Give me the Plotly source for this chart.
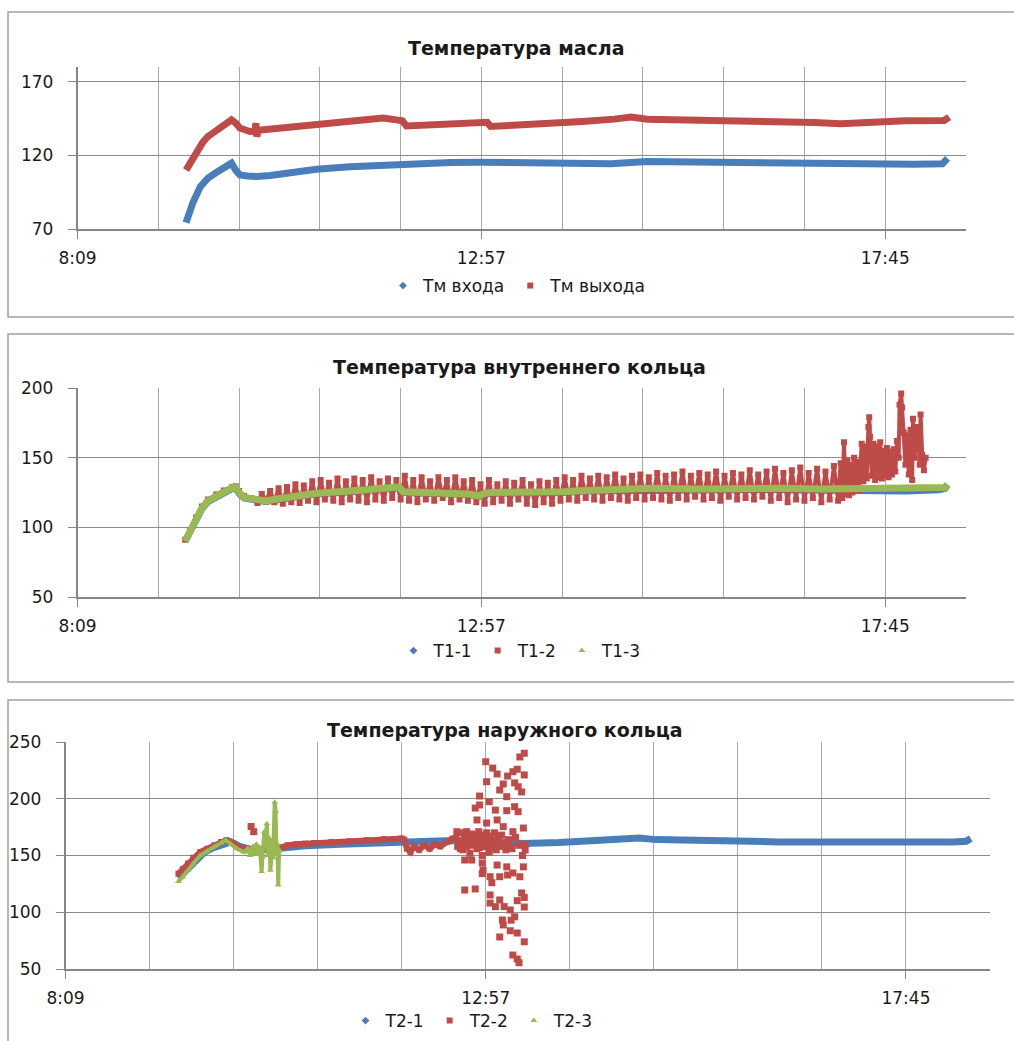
import plotly.graph_objects as go

# ---------------- time axis (hours of the day) ----------------
X_LABELS = ["8:09", "12:57", "17:45"]
X_LABEL_POS = [8.16, 12.96, 17.76]
X_START, X_END, X_STEP = 8.16, 18.72, 0.96

# ---------------- Температура масла ----------------
oil_in_t = [9.45, 9.53, 9.62, 9.71, 9.80, 9.90, 9.99, 10.04, 10.09, 10.18,
            10.29, 10.45, 10.70, 11.00, 11.40, 11.80, 12.20, 12.60, 12.96, 13.30,
            13.70, 14.16, 14.50, 14.93, 15.30, 15.69, 16.10, 16.46, 16.90, 17.23,
            17.70, 18.10, 18.44, 18.50]
oil_in = [74.3, 87.7, 98.8, 104.5, 108, 111, 114.7, 110, 106.7, 106,
          105.6, 106.3, 108.5, 110.5, 112.3, 113.5, 114.5, 115.2, 115.3, 115,
          115.2, 114.7, 114.3, 115.8, 115.6, 115.1, 114.8, 114.2, 113.9, 113.5,
          113.9, 114, 114.3, 118]

oil_out_t = [9.45, 9.52, 9.58, 9.65, 9.71, 9.80, 9.90, 9.99, 10.04, 10.09,
             10.21, 10.27, 10.28, 10.29, 10.31, 10.40, 10.53, 10.75, 11.00, 11.40,
             11.79, 11.95, 12.02, 12.07, 12.30, 12.59, 12.98, 13.03, 13.07, 13.40,
             13.85, 14.16, 14.54, 14.74, 14.93, 15.30, 15.69, 16.10, 16.46, 16.92,
             17.23, 17.61, 18.00, 18.46, 18.52]
oil_out = [110, 117, 123.7, 129, 132.8, 136.5, 140.5, 144.1, 142, 138.5,
           136.2, 136.5, 141.9, 132.8, 137, 137.5, 138.5, 140, 141.9, 143.5,
           145.3, 144.1, 143.5, 140, 140.8, 141.9, 143, 142.5, 139.6, 140.5,
           141.4, 143, 144.6, 146, 144.6, 144.2, 143.7, 143.7, 143.7, 142.3,
           141.4, 143, 143.5, 143.7, 146]

# ---------------- Температура внутреннего кольца ----------------
inner_t = [9.44, 9.50, 9.57, 9.64, 9.71, 9.81, 9.90, 10.00, 10.04, 10.08,
           10.14, 10.25, 10.40, 10.55, 10.75, 11.00, 11.40, 11.75, 11.98, 12.03,
           12.40, 12.80, 12.93, 13.00, 13.08, 13.40, 13.93, 14.20, 14.60, 15.00,
           15.50, 16.00, 16.50, 17.00, 17.50, 18.00, 18.40, 18.47, 18.50]
t1_1 = [90, 97, 106, 113.5, 118.5, 122, 125, 128, 128.5, 124.5,
        121, 119.5, 118.5, 120, 122, 124, 125.5, 127, 128.5, 125,
        124.5, 123.5, 122, 124, 124.5, 124.5, 125, 126, 126.5, 127,
        126.5, 127, 127, 126.5, 125.6, 126, 127, 128, 130.5]
t1_3 = [90, 97, 106, 114, 119, 122.5, 125.5, 128.5, 129, 125,
        121.5, 120, 119, 120.5, 122.5, 124.5, 126, 127.5, 129, 125.5,
        125, 124, 122.5, 124.5, 125, 125, 125.6, 126.5, 127.5, 128,
        127.5, 128, 128, 127.5, 127.5, 127.5, 127.5, 128.5, 131]

t1_2_t = [9.44, 9.50, 9.57, 9.64, 9.71, 9.81, 9.90, 10.00, 10.04, 10.08,
          10.14, 10.22,
          10.30, 10.35, 10.40, 10.45, 10.50, 10.55, 10.60, 10.65, 10.70, 10.75,
          10.80, 10.85, 10.90, 10.95, 11.00, 11.05, 11.10, 11.15, 11.20, 11.25,
          11.30, 11.35, 11.40, 11.45, 11.50, 11.55, 11.60, 11.65, 11.70, 11.75,
          11.80, 11.85, 11.90, 11.95, 12.00, 12.05, 12.10, 12.15, 12.20, 12.25,
          12.30, 12.35, 12.40, 12.45, 12.50, 12.55, 12.60, 12.65, 12.70, 12.75,
          12.80, 12.85, 12.90, 12.95, 13.00, 13.05, 13.10, 13.15, 13.20, 13.25,
          13.30, 13.35, 13.40, 13.45, 13.50, 13.55, 13.60, 13.65, 13.70, 13.75,
          13.80, 13.85, 13.90, 13.95, 14.00, 14.05, 14.10, 14.15, 14.20, 14.25,
          14.30, 14.35, 14.40, 14.45, 14.50, 14.55, 14.60, 14.65, 14.70, 14.75,
          14.80, 14.85, 14.90, 14.95, 15.00, 15.05, 15.10, 15.15, 15.20, 15.25,
          15.30, 15.35, 15.40, 15.45, 15.50, 15.55, 15.60, 15.65, 15.70, 15.75,
          15.80, 15.85, 15.90, 15.95, 16.00, 16.05, 16.10, 16.15, 16.20, 16.25,
          16.30, 16.35, 16.40, 16.45, 16.50, 16.55, 16.60, 16.65, 16.70, 16.75,
          16.80, 16.85, 16.90, 16.95, 17.00, 17.05, 17.10, 17.15, 17.20,
          17.23, 17.25, 17.27, 17.29, 17.31, 17.33, 17.35, 17.37, 17.39, 17.41,
          17.43, 17.45, 17.48, 17.50, 17.52, 17.54, 17.56, 17.57, 17.58, 17.60,
          17.62, 17.64, 17.66, 17.68, 17.70, 17.72, 17.74, 17.76, 17.78, 17.80,
          17.82, 17.84, 17.86, 17.88, 17.90, 17.92, 17.93, 17.95, 17.96, 17.98,
          18.00, 18.02, 18.04, 18.06, 18.08, 18.09, 18.11, 18.13, 18.15, 18.17,
          18.18, 18.20, 18.22, 18.24]
t1_2 = [91, 98, 107, 115, 120, 123.5, 126.5, 129, 129.5, 126,
        122.5, 121,
        117.5, 124, 118.5, 126, 118, 128, 117, 129, 118, 131,
        117.5, 130, 119, 133, 118, 134, 120, 132, 119, 135,
        118, 133, 120, 135, 119, 134, 118, 136, 120, 133,
        119, 135, 121, 134, 120, 137, 119, 134, 118, 136,
        120, 133, 119, 136, 121, 134, 118, 136, 120, 133,
        119, 134, 118, 131, 117, 134, 118, 131, 119, 133,
        117, 132, 120, 134, 117, 131, 116, 133, 118, 132,
        117, 134, 119, 136, 120, 134, 119, 137, 121, 135,
        120, 137, 119, 136, 121, 138, 120, 135, 119, 137,
        121, 138, 120, 136, 121, 139, 120, 137, 119, 138,
        121, 140, 120, 137, 122, 139, 120, 138, 121, 140,
        119, 137, 122, 139, 120, 138, 121, 141, 120, 138,
        122, 140, 119, 142, 121, 139, 118, 141, 120, 143,
        119, 139, 121, 142, 118, 140, 120, 144, 119,
        146, 121, 161, 124, 148, 123, 145, 125, 150, 127,
        147, 126, 160, 133, 158, 135, 172, 179, 165, 137,
        160, 134, 158, 136, 161, 135, 155, 137, 157, 136,
        154, 138, 156, 140, 162, 150, 188, 196, 186, 168,
        145, 166, 138, 170, 134, 178, 150, 172, 170, 145,
        181, 152, 141, 150]

# ---------------- Температура наружного кольца ----------------
t2_1_t = [9.45, 9.55, 9.65, 9.75, 9.85, 9.95, 10.05, 10.15, 10.30, 10.50,
          10.62, 10.90, 11.30, 11.70, 12.10, 12.50, 12.90, 13.40, 13.80, 14.20,
          14.50, 14.72, 14.90, 15.30, 15.80, 16.30, 16.80, 17.30, 17.80, 18.30,
          18.45, 18.50]
t2_1 = [130, 138, 146, 153, 157, 160, 162, 158, 155, 155.5,
        156.6, 158.5, 160, 161.5, 162.5, 163, 163, 160.5, 161.5, 163.5,
        164, 165.4, 164, 163, 162.5, 162, 161.9, 161.5, 161.5, 162,
        162.5, 165]

t2_2_t = [9.45, 9.50, 9.56, 9.62, 9.70, 9.78, 9.86, 9.94, 10.00, 10.06,
          10.15, 10.25, 10.40, 10.55, 10.62, 10.70, 10.80, 10.90, 11.00, 11.20,
          11.40, 11.60, 11.80, 12.00, 12.03, 12.06, 12.10, 12.14, 12.20, 12.26,
          12.32, 12.38, 12.44, 12.52, 12.58]
t2_2 = [134, 138, 143, 148, 153, 156, 159, 162, 163.5, 161,
        157, 155, 155, 156, 157, 159, 160, 160.5, 161, 162,
        162.5, 163.5, 164.5, 165, 164, 156, 153, 158, 155, 159,
        156, 160, 158, 162, 165]

# scattered T2-2 readings (sensor dropout)
t2_2_scatter_t = [10.28, 10.31,
                  12.62, 12.63, 12.66, 12.68, 12.70, 12.72, 12.72, 12.72, 12.74, 12.74,
                  12.76, 12.78, 12.80, 12.80, 12.82, 12.84, 12.84, 12.84, 12.86, 12.86,
                  12.88, 12.89, 12.89, 12.90, 12.92, 12.92, 12.92, 12.93, 12.94, 12.96,
                  12.96, 12.97, 12.97, 12.98, 13.00, 13.00, 13.01, 13.01, 13.01, 13.02,
                  13.03, 13.04, 13.04, 13.06, 13.07, 13.07, 13.08, 13.09, 13.09, 13.09,
                  13.10, 13.12, 13.12, 13.12, 13.12, 13.12, 13.14, 13.15, 13.16, 13.16,
                  13.16, 13.17, 13.18, 13.20, 13.20, 13.20, 13.21, 13.21, 13.22, 13.24,
                  13.24, 13.25, 13.26, 13.27, 13.27, 13.27, 13.27, 13.29, 13.29, 13.29,
                  13.30, 13.32, 13.32, 13.32, 13.32, 13.33, 13.33, 13.34, 13.34, 13.35,
                  13.35, 13.37, 13.37, 13.38, 13.39, 13.39, 13.40, 13.40, 13.40, 13.40,
                  13.40, 13.41, 13.41,
                  12.65, 12.69, 12.75, 12.79, 12.83, 12.87, 12.91, 12.95, 12.99, 13.03,
                  13.05, 12.85, 12.77, 12.67, 12.71, 12.81, 12.93, 12.97, 13.01, 13.07,
                  12.64, 12.73, 12.89, 13.11, 13.19, 13.23]
t2_2_scatter = [175.5, 171,
                165, 171, 160, 170, 155, 146, 168, 119.6, 171, 158,
                163, 152, 146, 169, 160, 191.8, 166, 120.5, 181.3, 156,
                171, 202.4, 194.5, 162, 143.4, 150, 134, 137.2, 168, 232.6,
                158, 215, 178.6, 164, 197.4, 153, 131.3, 115.2, 108.1, 167,
                126, 227, 160, 170, 190, 104.9, 155, 221.8, 181.3, 141.6,
                165, 207.7, 158, 131.3, 110.8, 78.2, 168, 93.2, 213, 175.4,
                88.8, 105, 160, 201.8, 189.5, 140, 220, 132.8, 164, 102,
                83.7, 93, 156, 223.8, 171, 134.6, 62.3, 214, 193, 96,
                166, 226, 110.2, 81.7, 58.8, 210.6, 188.6, 159, 55.5, 236.8,
                131.3, 206, 117, 150, 174.2, 140, 240, 221, 113, 104.6,
                74, 154.8, 160,
                162, 157, 166, 159, 163, 168, 158, 161, 165, 157,
                162, 163, 167, 156, 163, 165, 160, 170, 162, 158,
                158, 161, 157, 163, 155, 159]

t2_3_t = [9.45, 9.50, 9.56, 9.62, 9.70, 9.78, 9.86, 9.94, 9.99, 10.05,
          10.12, 10.20, 10.24, 10.27, 10.30, 10.32, 10.34, 10.36, 10.38, 10.40,
          10.41, 10.43, 10.44, 10.46, 10.47, 10.49, 10.50, 10.52, 10.53, 10.55,
          10.56, 10.57, 10.58, 10.59, 10.60]
t2_3 = [127, 131, 137, 143, 150, 154, 158, 161, 163.5, 160,
        156, 153, 156, 150, 158, 151, 160, 152, 157, 136,
        149, 171, 158, 178, 150, 165, 137, 155, 148, 197,
        189, 152, 160, 124, 155]

# ---------------- styling ----------------
BLUE, RED, GREEN = "#4a7ebb", "#be4b48", "#98b954"
AXIS_COLOR = "#868686"
HGRID = "#8c8c8c"
VGRID = "#a8a8a8"
TEXT = "#1a1a1a"
FONT = "DejaVu Sans"
W, H = 1014, 1041


def px_x(x):
    return x / W


def px_y(y):
    return 1 - y / H


fig = go.Figure()


def line_trace(x, y, color, width, xa, ya, mode="lines", symbol="square", size=5):
    return go.Scatter(x=x, y=y, mode=mode, xaxis=xa, yaxis=ya, showlegend=False,
                      line=dict(color=color, width=width),
                      marker=dict(color=color, symbol=symbol, size=size),
                      hoverinfo="skip")


def legend_entry(name, color, symbol, size, legend):
    return go.Scatter(x=[None], y=[None], mode="markers", name=name, legend=legend,
                      marker=dict(color=color, symbol=symbol, size=size),
                      xaxis="x", yaxis="y")


# panel 1
fig.add_trace(line_trace(oil_in_t, oil_in, BLUE, 7, "x", "y"))
fig.add_trace(line_trace(oil_out_t, oil_out, RED, 7, "x", "y"))
fig.add_trace(legend_entry("Тм входа", BLUE, "diamond", 6, "legend"))
fig.add_trace(legend_entry("Тм выхода", RED, "square", 6, "legend"))

# panel 2
fig.add_trace(line_trace(inner_t, t1_1, BLUE, 7, "x2", "y2"))
fig.add_trace(line_trace(t1_2_t, t1_2, RED, 4, "x2", "y2", mode="lines+markers", size=6))
fig.add_trace(line_trace(inner_t, t1_3, GREEN, 7, "x2", "y2"))
fig.add_trace(legend_entry("T1-1", BLUE, "diamond", 6, "legend2"))
fig.add_trace(legend_entry("T1-2", RED, "square", 6, "legend2"))
fig.add_trace(legend_entry("T1-3", GREEN, "triangle-up", 6, "legend2"))

# panel 3
fig.add_trace(line_trace(t2_1_t, t2_1, BLUE, 7, "x3", "y3"))
fig.add_trace(line_trace(t2_2_t, t2_2, RED, 6, "x3", "y3", mode="lines+markers", size=6))
fig.add_trace(line_trace(t2_2_scatter_t, t2_2_scatter, RED, 0, "x3", "y3", mode="markers", size=7))
fig.add_trace(line_trace(t2_3_t, t2_3, GREEN, 4, "x3", "y3", mode="lines+markers",
                         symbol="triangle-up", size=6))
fig.add_trace(legend_entry("T2-1", BLUE, "diamond", 6, "legend3"))
fig.add_trace(legend_entry("T2-2", RED, "square", 6, "legend3"))
fig.add_trace(legend_entry("T2-3", GREEN, "triangle-up", 6, "legend3"))


def x_axis(left, right, anchor):
    return dict(domain=[px_x(left), px_x(right)], range=[X_START, X_END], anchor=anchor,
                tickvals=X_LABEL_POS, ticktext=X_LABELS, automargin=False,
                ticks="outside", ticklen=8, tickcolor=AXIS_COLOR, tickwidth=1,
                showgrid=True, gridcolor=VGRID, gridwidth=1,
                minor=dict(tick0=X_START, dtick=X_STEP, showgrid=True,
                           gridcolor=VGRID, gridwidth=1, ticks=""),
                showline=True, linecolor=AXIS_COLOR, linewidth=1.5,
                zeroline=False, ticklabelstandoff=5,
                tickfont=dict(family=FONT, size=17, color=TEXT))


def y_axis(top, bottom, rng, vals, anchor):
    return dict(domain=[px_y(bottom), px_y(top)], range=rng, tickvals=vals,
                automargin=False,
                ticks="outside", ticklen=8, tickcolor=AXIS_COLOR,
                showgrid=True, gridcolor=HGRID, gridwidth=1.3,
                showline=True, linecolor=AXIS_COLOR, linewidth=1.5,
                zeroline=False, anchor=anchor, ticklabelstandoff=11,
                tickfont=dict(family=FONT, size=17, color=TEXT))


def legend_box(cx, cy):
    return dict(orientation="h", x=px_x(cx), y=px_y(cy), xanchor="center",
                yanchor="middle", bgcolor="rgba(0,0,0,0)", itemwidth=30,
                font=dict(family=FONT, size=17, color=TEXT))


def title(text, cx, cy):
    return dict(text="<b>%s</b>" % text, x=px_x(cx), y=px_y(cy), xref="paper",
                yref="paper", xanchor="center", yanchor="middle", showarrow=False,
                font=dict(family=FONT, size=19, color=TEXT))


def frame(top, bottom):
    return dict(type="rect", xref="paper", yref="paper", x0=px_x(8), x1=px_x(1030),
                y0=px_y(bottom), y1=px_y(top), line=dict(color="#a0a0a0", width=1.5),
                layer="below")


fig.update_layout(
    width=W, height=H, margin=dict(l=0, r=0, t=0, b=0, autoexpand=False),
    paper_bgcolor="white", plot_bgcolor="white",
    xaxis=x_axis(77.5, 966, "y"), yaxis=y_axis(67, 229, [70, 180], [70, 120, 170], "x"),
    xaxis2=x_axis(77.5, 966, "y2"), yaxis2=y_axis(388, 597, [50, 200], [50, 100, 150, 200], "x2"),
    xaxis3=x_axis(65.5, 990, "y3"), yaxis3=y_axis(742, 969, [50, 250], [50, 100, 150, 200, 250], "x3"),
    legend=legend_box(517, 286), legend2=legend_box(520, 651), legend3=legend_box(472, 1021),
    annotations=[title("Температура масла", 516, 48),
                 title("Температура внутреннего кольца", 519, 367),
                 title("Температура наружного кольца", 505, 730)],
    shapes=[frame(12, 317), frame(334, 682), frame(700, 1050)],
)

fig.write_html("out.html")
